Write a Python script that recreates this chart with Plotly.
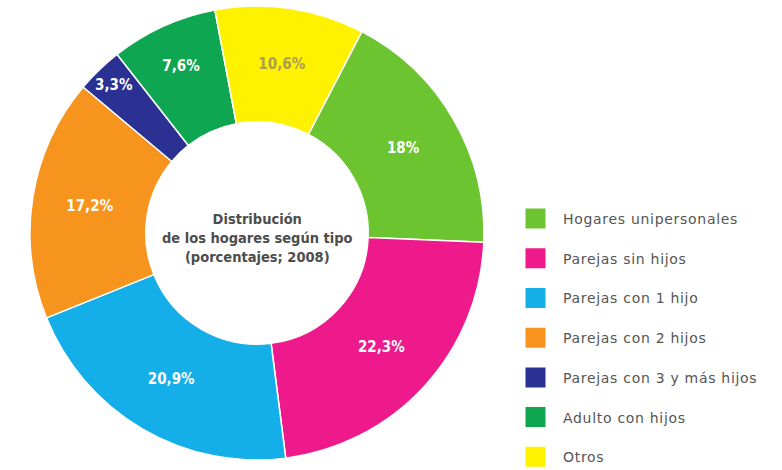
import plotly.graph_objects as go

categories = ["Hogares unipersonales", "Parejas sin hijos", "Parejas con 1 hijo",
              "Parejas con 2 hijos", "Parejas con 3 y más hijos", "Adulto con hijos", "Otros"]
values = [18, 22.3, 20.9, 17.2, 3.3, 7.6, 10.6]
colors = ["#6cc530", "#ee1a8c", "#14aee9", "#f7941d", "#2b3192", "#0ea651", "#fff200"]
label_colors = ["white", "white", "white", "white", "white", "white", "#ab9c55"]
center_title = "Distribución<br>de los hogares según tipo<br>(porcentajes; 2008)"


def fmt(v):
    s = f"{v:g}".replace(".", ",")
    return f"<b>{s}%</b>"


texts = [fmt(v) for v in values]

W, H = 782, 470
cx, cy, R = 257, 233, 227
NARROW = "Liberation Sans Narrow, Arial Narrow, DejaVu Sans Condensed, sans-serif"

fig = go.Figure()
fig.add_trace(go.Pie(
    labels=categories, values=values, text=texts,
    texttemplate="%{text}", textinfo="text",
    textposition="inside", insidetextorientation="horizontal",
    marker=dict(colors=colors, line=dict(color="white", width=1.5)),
    textfont=dict(family=NARROW, size=15, color=label_colors),
    hole=0.49, sort=False, direction="clockwise", rotation=27.5,
    showlegend=False,
    domain=dict(x=[(cx - R) / W, (cx + R) / W], y=[(H - cy - R) / H, (H - cy + R) / H]),
))

for name, col in zip(categories, colors):
    fig.add_trace(go.Scatter(
        x=[None], y=[None], mode="markers",
        name=f'<span style="letter-spacing:0.7px">{name}</span>', legendgroup=name,
        marker=dict(symbol="square", size=16, color=col, line=dict(color=col, width=4)),
        hoverinfo="skip",
    ))

fig.add_annotation(
    x=cx / W, y=(H - cy) / H, xref="paper", yref="paper",
    xanchor="center", yanchor="middle", yshift=-5,
    text=f"<b>{center_title}</b>", showarrow=False,
    font=dict(family=NARROW, size=14.5, color="#4d4d4d"),
    align="center",
)

fig.update_layout(
    width=W, height=H,
    margin=dict(l=0, r=0, t=0, b=0, autoexpand=False),
    paper_bgcolor="white", plot_bgcolor="white",
    xaxis=dict(visible=False, domain=[0.99, 1]), yaxis=dict(visible=False, domain=[0.99, 1]),
    legend=dict(
        x=508 / W, y=1 - 203 / H, xanchor="left", yanchor="top",
        traceorder="grouped", tracegroupgap=18.5, itemwidth=45,
        font=dict(family="DejaVu Sans, sans-serif", size=14, color="#555555"),
        bgcolor="rgba(0,0,0,0)",
    ),
)

fig.write_html("out.html", config={"displayModeBar": False},
               post_script="document.body.style.margin='0px';")
